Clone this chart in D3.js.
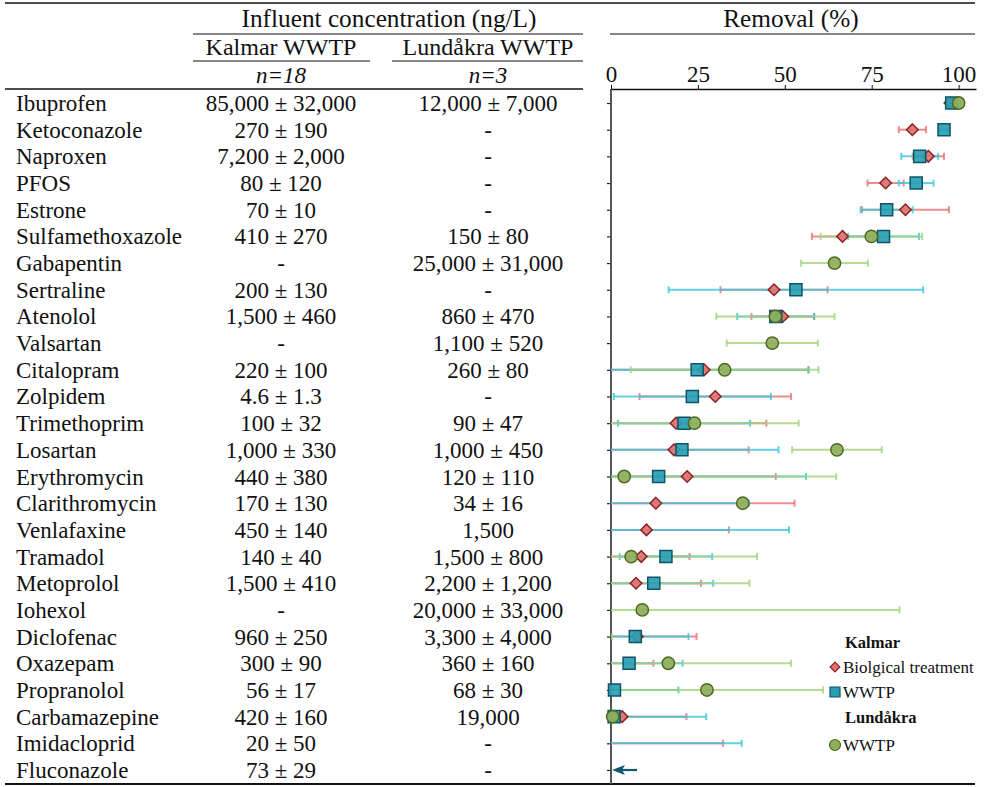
<!DOCTYPE html>
<html>
<head>
<meta charset="utf-8">
<script src="https://cdn.jsdelivr.net/npm/d3@7/dist/d3.min.js"></script>
<style>
  html, body { margin: 0; padding: 0; background: #fff; }
  svg { display: block; font-family: "Liberation Serif", "Times New Roman", serif; }
</style>
</head>
<body>
<svg id="chart" width="985" height="787"></svg>
<script>
// Compounds, in table order
const compounds = ["Ibuprofen","Ketoconazole","Naproxen","PFOS","Estrone","Sulfamethoxazole",
  "Gabapentin","Sertraline","Atenolol","Valsartan","Citalopram","Zolpidem","Trimethoprim",
  "Losartan","Erythromycin","Clarithromycin","Venlafaxine","Tramadol","Metoprolol","Iohexol",
  "Diclofenac","Oxazepam","Propranolol","Carbamazepine","Imidacloprid","Fluconazole"];

// Influent concentrations (ng/L)
const kalmarConc = ["85,000 ± 32,000","270 ± 190","7,200 ± 2,000","80 ± 120","70 ± 10","410 ± 270",
  "-","200 ± 130","1,500 ± 460","-","220 ± 100","4.6 ± 1.3","100 ± 32","1,000 ± 330","440 ± 380",
  "170 ± 130","450 ± 140","140 ± 40","1,500 ± 410","-","960 ± 250","300 ± 90","56 ± 17","420 ± 160",
  "20 ± 50","73 ± 29"];
const lundakraConc = ["12,000 ± 7,000","-","-","-","-","150 ± 80","25,000 ± 31,000","-","860 ± 470",
  "1,100 ± 520","260 ± 80","-","90 ± 47","1,000 ± 450","120 ± 110","34 ± 16","1,500","1,500 ± 800",
  "2,200 ± 1,200","20,000 ± 33,000","3,300 ± 4,000","360 ± 160","68 ± 30","19,000","-","-"];

// Removal (%) – mean and standard deviation; null = not determined
const kalmarBioMean = [97.5,86.7,91.3,79.0,84.7,66.6,null,46.9,49.4,null,26.8,30.0,18.7,18.1,21.9,12.9,
  10.2,8.7,7.2,null,7.6,-8,null,3.2,-10,null];
const kalmarBioSd   = [1.0,3.9,4.5,5.2,12.5,8.8,null,15.4,9.0,null,30.0,21.8,26.0,21.5,25.5,39.9,
  23.7,13.9,18.7,null,17.0,20.2,null,18.5,42.2,null];
const kalmarWwtpMean = [98.0,95.8,88.8,87.8,79.3,78.4,null,53.2,47.4,null,24.8,23.4,21.0,20.4,13.7,-12,
  -20,15.8,12.3,null,7.0,5.2,1.0,0.9,-15,null];
const kalmarWwtpSd   = [1.5,1.0,5.3,5.0,7.5,10.2,null,36.6,11.1,null,32.0,22.6,19.0,27.8,42.4,51.7,
  71.2,13.3,17.1,null,15.3,15.4,18.4,26.5,52.6,null];
const lundakraMean = [100,null,null,null,null,74.9,64.3,null,47.3,46.4,32.7,null,24.0,65.0,3.8,37.9,
  null,5.8,-5,9.0,-30,16.5,27.6,0.5,null,null];
const lundakraSd   = [0.5,null,null,null,null,14.6,9.6,null,17.0,13.1,27.0,null,30.0,12.9,61.0,0.6,
  null,36.2,44.8,74.0,30.3,35.3,33.4,0.5,null,null];

// Removal below the axis range, marked with an arrow (percentage where the arrow starts)
const belowRangeArrow = [null,null,null,null,null,null,null,null,null,null,null,null,null,null,null,null,
  null,null,null,null,null,null,null,null,null,7.5];

const removalTicks = [0, 25, 50, 75, 100];

const svg = d3.select("#chart");
const FONT = 23;

const x = d3.scaleLinear().domain([0, 105]).range([611, 976]);
const y = d3.scalePoint().domain(compounds).range([103, 770]);

// ---- Table rules ----
const rule = (x1, x2, yy, w) => svg.append("line")
  .attr("x1", x1).attr("x2", x2).attr("y1", yy).attr("y2", yy)
  .attr("stroke", "#111").attr("stroke-width", w || 1.2);
rule(5, 975, 3, 1.5);
rule(193, 583, 34);
rule(610, 975, 34);
rule(193, 370, 61);
rule(392, 583, 61);
rule(5, 583, 89, 1.5);
rule(5, 975, 784, 2);

// ---- Headers ----
const headText = (t, cx, by, opts = {}) => svg.append("text")
  .attr("x", cx).attr("y", by).attr("text-anchor", opts.anchor || "middle")
  .attr("font-size", opts.size || 25.3)
  .attr("font-style", opts.italic ? "italic" : null)
  .attr("font-weight", opts.bold ? "bold" : null)
  .attr("fill", "#111").text(t);
headText("Influent concentration (ng/L)", 389, 27);
headText("Removal (%)", 791, 27);
headText("Kalmar WWTP", 281, 55, { size: 24 });
headText("Lundåkra WWTP", 488, 55, { size: 24 });
headText("n=18", 281, 83, { size: 23, italic: true });
headText("n=3", 488, 83, { size: 23, italic: true });

// ---- Table body ----
const rows = svg.append("g").attr("font-size", FONT).attr("fill", "#111");
rows.selectAll("text.name").data(compounds).join("text")
  .attr("class", "name").attr("x", 16).attr("y", d => y(d) + 8).text(d => d);
rows.selectAll("text.kal").data(compounds).join("text")
  .attr("class", "kal").attr("x", 281).attr("y", d => y(d) + 8)
  .attr("text-anchor", "middle").text((d, i) => kalmarConc[i]);
rows.selectAll("text.lun").data(compounds).join("text")
  .attr("class", "lun").attr("x", 488).attr("y", d => y(d) + 8)
  .attr("text-anchor", "middle").text((d, i) => lundakraConc[i]);

// ---- Removal axes ----
const xAxis = svg.append("g").attr("transform", "translate(0,89)")
  .call(d3.axisTop(x).tickValues(removalTicks).tickSize(4).tickSizeOuter(0).tickPadding(3));
xAxis.select(".domain").attr("stroke", "#111").attr("stroke-width", 1.5);
xAxis.selectAll(".tick line").attr("stroke", "#111");
xAxis.selectAll(".tick text").attr("font-size", FONT).attr("font-family", "Liberation Serif, Times New Roman, serif").attr("fill", "#111");

const yAxis = svg.append("g").attr("transform", "translate(611,0)")
  .call(d3.axisLeft(y).tickSize(4).tickSizeOuter(0).tickFormat(""));
yAxis.select(".domain").remove();
yAxis.selectAll(".tick line").attr("stroke", "#222").attr("stroke-width", 1.2);
svg.append("line").attr("x1", 611).attr("x2", 611).attr("y1", 89).attr("y2", 784)
  .attr("stroke", "#555").attr("stroke-width", 2);

// ---- Series ----
const series = [
  { key: "bio",  mean: kalmarBioMean,  sd: kalmarBioSd,  bar: "#ee6f6f", fill: "#e07272", stroke: "#8a2323", shape: "diamond" },
  { key: "wwtp", mean: kalmarWwtpMean, sd: kalmarWwtpSd, bar: "#3cc6de", fill: "#2a9db3", stroke: "#0d5568", shape: "square" },
  { key: "lund", mean: lundakraMean,   sd: lundakraSd,   bar: "#a3d37a", fill: "#8fae5c", stroke: "#4c6a22", shape: "circle" }
];

const plot = svg.append("g");
const [d0, d1] = x.domain();
const clampV = v => Math.max(d0, Math.min(d1, v));

// error bars, clipped at the axis limits; caps only inside the range
series.forEach(s => {
  const pts = compounds.map((c, i) => ({ c, m: s.mean[i], e: s.sd[i] }))
    .filter(p => p.m !== null && p.e !== null && p.m + p.e > d0);
  const g = plot.append("g").attr("stroke", s.bar).attr("stroke-width", 2).attr("stroke-opacity", 0.8);
  pts.forEach(p => {
    const lo = p.m - p.e, hi = p.m + p.e;
    const yy = y(p.c);
    g.append("line").attr("x1", x(clampV(lo))).attr("x2", x(clampV(hi))).attr("y1", yy).attr("y2", yy);
    [lo, hi].forEach(v => {
      if (v > d0 + 0.1 && v < d1) {
        g.append("line").attr("x1", x(v)).attr("x2", x(v)).attr("y1", yy - 3.5).attr("y2", yy + 3.5);
      }
    });
  });
});

// markers
const symbolPath = {
  diamond: d3.symbol().type(d3.symbolDiamond2).size(85)(),
  square: d3.symbol().type(d3.symbolSquare).size(145)(),
  circle: d3.symbol().type(d3.symbolCircle).size(120)()
};
series.forEach(s => {
  const pts = compounds.map((c, i) => ({ c, m: s.mean[i] }))
    .filter(p => p.m !== null && p.m >= d0 - 1);
  plot.append("g").selectAll("path").data(pts).join("path")
    .attr("d", symbolPath[s.shape])
    .attr("transform", p => `translate(${x(p.m)},${y(p.c)})`)
    .attr("fill", s.fill).attr("fill-opacity", 0.92)
    .attr("stroke", s.stroke).attr("stroke-width", 1.5);
});

// arrows for removal below the displayed range
const arrows = compounds.map((c, i) => ({ c, v: belowRangeArrow[i] })).filter(p => p.v !== null);
arrows.forEach(p => {
  const yy = y(p.c);
  plot.append("line").attr("x1", x(p.v)).attr("x2", x(0) + 8).attr("y1", yy).attr("y2", yy)
    .attr("stroke", "#0e5a6c").attr("stroke-width", 2.2);
  plot.append("path")
    .attr("d", `M${x(0) + 1},${yy} L${x(0) + 14},${yy - 5} L${x(0) + 11},${yy} L${x(0) + 14},${yy + 5} Z`)
    .attr("fill", "#0e5a6c");
});

// ---- Legend ----
const lg = svg.append("g").attr("fill", "#111");
lg.append("text").attr("x", 845).attr("y", 648).attr("font-size", 16.5).attr("font-weight", "bold").text("Kalmar");
lg.append("text").attr("x", 845).attr("y", 723).attr("font-size", 16.5).attr("font-weight", "bold").text("Lundåkra");
const legendItems = [
  { s: series[0], label: "Biolgical treatment", yy: 667, size: 60 },
  { s: series[1], label: "WWTP", yy: 692, size: 100 },
  { s: series[2], label: "WWTP", yy: 745, size: 95 }
];
legendItems.forEach(it => {
  const typ = it.s.shape === "diamond" ? d3.symbolDiamond2 : it.s.shape === "square" ? d3.symbolSquare : d3.symbolCircle;
  lg.append("path").attr("d", d3.symbol().type(typ).size(it.size)())
    .attr("transform", `translate(835,${it.yy})`)
    .attr("fill", it.s.fill).attr("stroke", it.s.stroke).attr("stroke-width", 1.2);
  lg.append("text").attr("x", 843).attr("y", it.yy + 6).attr("font-size", 17).text(it.label);
});
</script>
</body>
</html>
